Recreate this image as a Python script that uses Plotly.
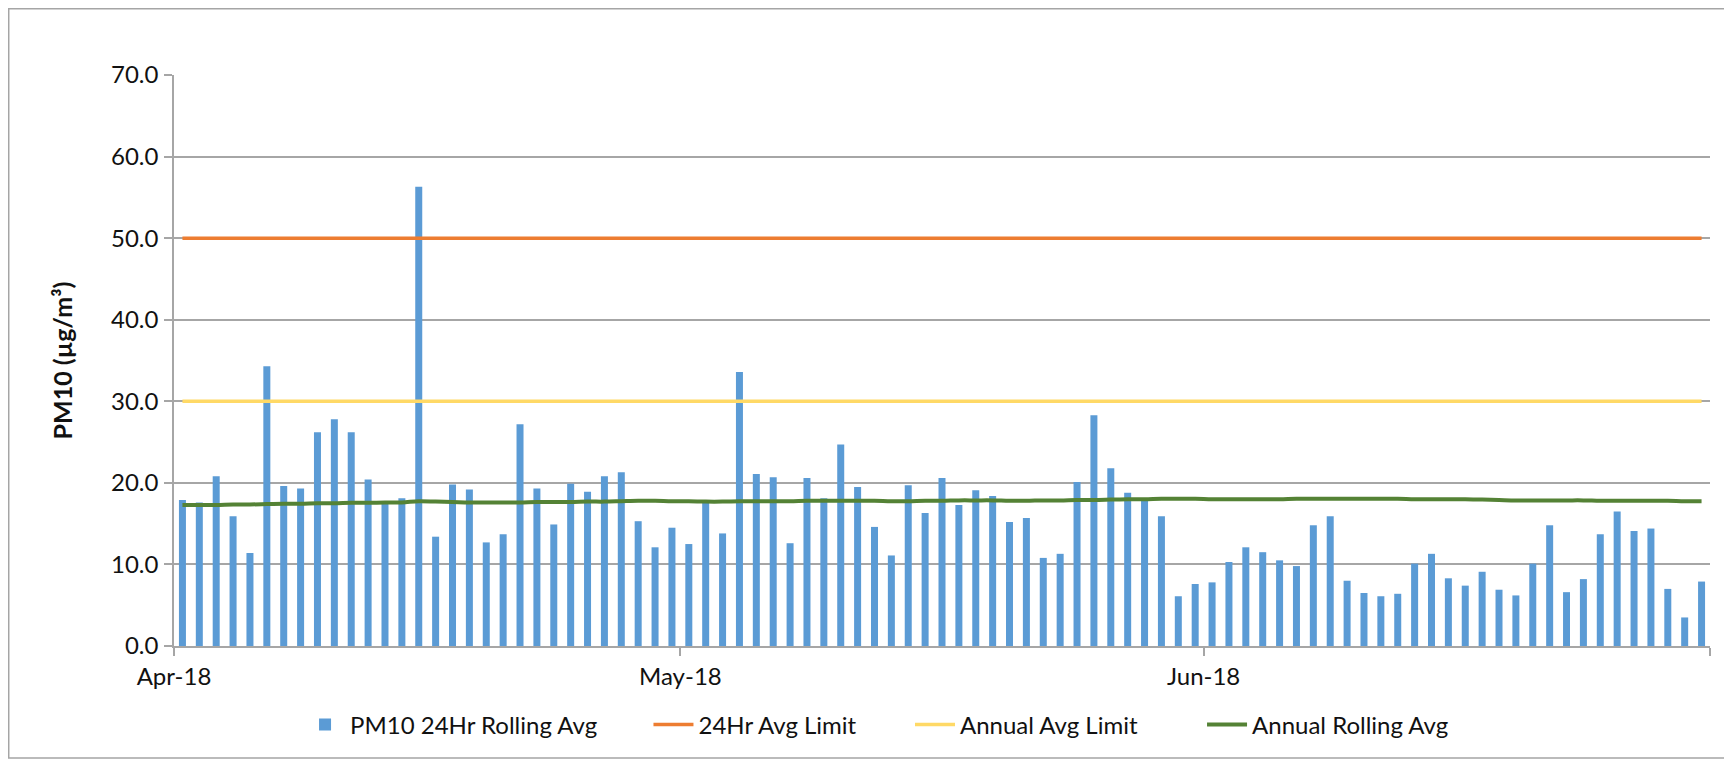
import pandas as pd
import plotly.graph_objects as go

# ---------------- data ----------------
dates = pd.date_range("2018-04-01", periods=91, freq="D")

pm10_24hr = [
    17.9, 17.6, 20.8, 15.9, 11.4, 34.3, 19.6, 19.3, 26.2, 27.8,
    26.2, 20.4, 17.5, 18.1, 56.3, 13.4, 19.8, 19.2, 12.7, 13.7,
    27.2, 19.3, 14.9, 19.9, 18.9, 20.8, 21.3, 15.3, 12.1, 14.5,
    12.5, 17.7, 13.8, 33.6, 21.1, 20.7, 12.6, 20.6, 18.1, 24.7,
    19.5, 14.6, 11.1, 19.7, 16.3, 20.6, 17.3, 19.1, 18.4, 15.2,
    15.7, 10.8, 11.3, 20.1, 28.3, 21.8, 18.8, 17.9, 15.9, 6.1,
    7.6, 7.8, 10.3, 12.1, 11.5, 10.5, 9.8, 14.8, 15.9, 8.0,
    6.5, 6.1, 6.4, 10.1, 11.3, 8.3, 7.4, 9.1, 6.9, 6.2,
    10.1, 14.8, 6.6, 8.2, 13.7, 16.5, 14.1, 14.4, 7.0, 3.5,
    7.9,
]

annual_rolling = [
    17.3, 17.3, 17.3, 17.35, 17.35, 17.4, 17.45, 17.45, 17.5, 17.5,
    17.55, 17.55, 17.6, 17.6, 17.75, 17.7, 17.65, 17.6, 17.6, 17.6,
    17.6, 17.65, 17.65, 17.65, 17.7, 17.7, 17.75, 17.8, 17.8, 17.75,
    17.75, 17.7, 17.7, 17.75, 17.75, 17.75, 17.75, 17.8, 17.8, 17.8,
    17.8, 17.8, 17.75, 17.75, 17.8, 17.8, 17.85, 17.85, 17.85, 17.8,
    17.8, 17.85, 17.85, 17.9, 17.9, 17.95, 18.0, 18.0, 18.05, 18.05,
    18.05, 18.0, 18.0, 18.0, 18.0, 18.0, 18.05, 18.05, 18.05, 18.05,
    18.05, 18.05, 18.05, 18.0, 18.0, 18.0, 18.0, 17.95, 17.9, 17.85,
    17.85, 17.85, 17.85, 17.85, 17.8, 17.8, 17.8, 17.8, 17.8, 17.75,
    17.75,
]

limit_24hr_value = 50.0
limit_annual_value = 30.0
limit_24hr = [limit_24hr_value] * len(dates)
limit_annual = [limit_annual_value] * len(dates)

tick_dates = ["2018-04-01", "2018-05-01", "2018-06-01", "2018-07-01"]
tick_labels = ["Apr-18", "May-18", "Jun-18", ""]

series_names = ["PM10 24Hr Rolling Avg", "24Hr Avg Limit",
                "Annual Avg Limit", "Annual Rolling Avg"]

# ---------------- styles ----------------
FONT = "Lato"
TEXT = "#111111"
GRID = "#a6a6a6"
DAY_MS = 86400000
W, H = 1724, 757          # page body has an 8px margin
legend_x = [0.1694, 0.3715, 0.5232, 0.6926]

fig = go.Figure()
fig.add_trace(go.Bar(
    x=dates, y=pm10_24hr, name=series_names[0], legend="legend",
    xperiod=DAY_MS, xperiodalignment="middle",
    marker=dict(color="#5b9bd5", line=dict(width=0)),
))
fig.add_trace(go.Scatter(
    x=dates, y=limit_24hr, name=series_names[1], mode="lines",
    legend="legend2",
    xperiod=DAY_MS, xperiodalignment="middle",
    line=dict(color="#ed7d31", width=3.5),
))
fig.add_trace(go.Scatter(
    x=dates, y=limit_annual, name=series_names[2], mode="lines",
    legend="legend3",
    xperiod=DAY_MS, xperiodalignment="middle",
    line=dict(color="#ffd966", width=3.5),
))
fig.add_trace(go.Scatter(
    x=dates, y=annual_rolling, name=series_names[3], mode="lines",
    legend="legend4",
    xperiod=DAY_MS, xperiodalignment="middle",
    line=dict(color="#548235", width=4, shape="spline"),
))


def legend_box(xpos):
    return dict(
        orientation="h", xref="container", yref="container",
        x=xpos, xanchor="left", y=0.053, yanchor="middle",
        font=dict(family=FONT, size=24, color=TEXT),
        itemwidth=40, bgcolor="rgba(0,0,0,0)",
    )


fig.update_layout(
    width=W, height=H,
    margin=dict(l=166, r=22, t=67, b=119),
    paper_bgcolor="white", plot_bgcolor="white",
    font=dict(family=FONT, size=24, color=TEXT),
    bargap=0.585,
    showlegend=True,
    legend=legend_box(legend_x[0]),
    legend2=legend_box(legend_x[1]),
    legend3=legend_box(legend_x[2]),
    legend4=legend_box(legend_x[3]),
    xaxis=dict(
        type="date", range=["2018-04-01", "2018-07-01"],
        tickvals=tick_dates, ticktext=tick_labels,
        ticks="outside", ticklen=8, tickcolor=GRID, tickwidth=1.5,
        showline=True, linecolor=GRID, linewidth=1.5,
        showgrid=False, zeroline=False,
        ticklabelstandoff=0,
    ),
    yaxis=dict(
        range=[0, 70], dtick=10, tickformat=".1f",
        ticks="outside", ticklen=8, tickcolor=GRID, tickwidth=1.5,
        showline=True, linecolor=GRID, linewidth=1.5,
        showgrid=True, gridcolor=GRID, gridwidth=1.5,
        zeroline=False,
        ticklabelstandoff=1,
        title=dict(text="<b>PM10 (µg/m³)</b>", standoff=31,
                   font=dict(family=FONT, size=25, color=TEXT)),
    ),
    shapes=[dict(
        type="rect", xref="paper", yref="paper",
        x0=-0.1076, x1=1.0098, y0=-0.196, y1=1.116,
        line=dict(color="#a5a5a5", width=1.5), fillcolor="rgba(0,0,0,0)",
        layer="below",
    )],
)

fig.write_html("out.html")
